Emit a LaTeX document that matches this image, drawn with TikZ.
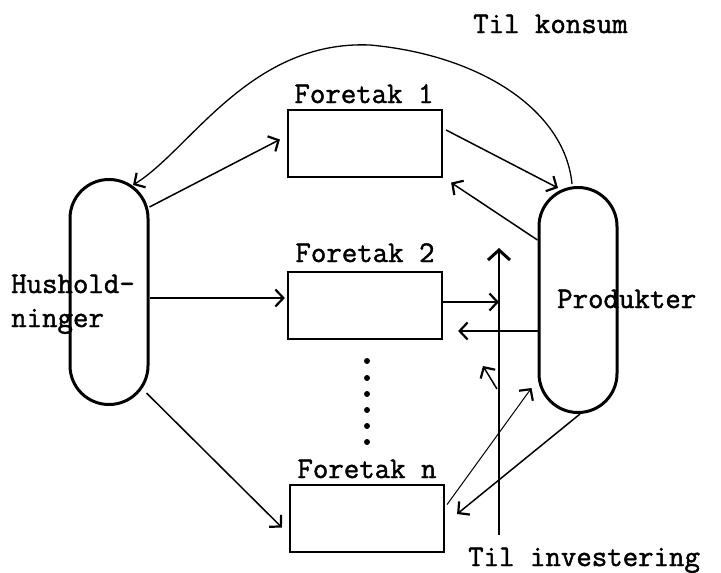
\documentclass[tikz,border=0pt]{standalone}
\usepackage{fontspec}
\setmonofont[FakeBold=1.5]{Latin Modern Mono}
\usetikzlibrary{arrows.meta,calc}
\begin{document}
\begin{tikzpicture}[x=1pt,y=-1pt]
\tikzset{
  stad/.style={draw, line width=3pt, rounded corners=38.9pt, minimum width=78pt, minimum height=225pt, inner sep=0pt},
  firm/.style={draw, line width=2.2pt, minimum width=154pt, minimum height=67pt, inner sep=0pt},
  lab/.style={font=\ttfamily\fontsize{30}{35}\selectfont, inner sep=0pt},
  tip/.style={-{Straight Barb[length=8pt,width=17pt,line width=2.2pt]}},
  flow/.style={line width=1.5pt, tip},
  thinflow/.style={line width=1pt, tip},
  dotmark/.style={circle, fill=black, inner sep=0pt, minimum size=6pt},
}
\useasboundingbox (0,0) rectangle (721,573);
% main nodes
\node[stad] (hus) at (109,292) {};
\node[stad] (prod) at (578,300) {};
\node[firm] (f1) at (365,143.5) {};
\node[firm] (f2) at (365,305.5) {};
\node[firm] (fn) at (367,518.5) {};
% labels
\node[lab, anchor=base west] (lhus) at (11,293) {Hushold-};
\node[lab, anchor=base west] (lhus2) at (11,327) {ninger};
\node[lab, anchor=base west] (lprod) at (557,308) {Produkter};
\node[lab, anchor=base] (lf1) at (364,103) {Foretak 1};
\node[lab, anchor=base] (lf2) at (365,262) {Foretak 2};
\node[lab, anchor=base] (lfn) at (367,478) {Foretak n};
\node[lab, anchor=base west] (lkons) at (473,33) {Til konsum};
\node[lab, anchor=base west] (linv) at (468,566) {Til investering};
% dots
\foreach \yy [count=\i] in {361,378,394,410,426,442}
  \node[dotmark] (d\i) at (367,\yy) {};
% vertical line to investment
\coordinate (vb) at (499,535);
\coordinate (vt) at (499,248);
\coordinate (v2) at (499,302);
\coordinate (v3) at (497,389);
\coordinate (v3e) at (483,366);
\draw[line width=1.6pt, -{Straight Barb[length=10pt,width=22pt,line width=3pt]}] (vb) -- (vt);
% household -> firms
\draw[flow] ($(hus.east)+(0,-85)$) -- ($(f1.west)+(-7,-4)$);
\draw[flow] ($(hus.east)+(0,6)$) -- ($(f2.west)+(-2,-7.5)$);
\draw[flow] ($(hus.east)+(-3,101)$) -- ($(fn.west)+(-7,9)$);
% firm 1 <-> products
\draw[flow] ($(f1.east)+(3,-13.5)$) -- ($(prod.north)+(-20,2)$);
\draw[flow] ($(prod.west)+(0,-60)$) -- ($(f1.south east)+(8,4.5)$);
% firm 2 <-> products / investment
\draw[flow] ($(f2.east)+(0,-3.5)$) -- (v2);
\draw[flow] ($(prod.west)+(0,31)$) -- ($(f2.east)+(15,25.5)$);
\draw[flow] (v3) -- (v3e);
% firm n <-> products
\draw[thinflow] ($(fn.east)+(2,-14)$) -- ($(prod.west)+(-6,88)$);
\draw[flow] ($(prod.south)+(2,0)$) -- ($(fn.east)+(12,-4.5)$);
% consumption arc
\draw[line width=1.3pt, tip] ($(prod.north)+(-6,-2)$) .. controls (565,110) and (480,55) .. (370,45)
   .. controls (250,40) and (190,150) .. ($(hus.north)+(24,7)$);
\end{tikzpicture}
\end{document}
